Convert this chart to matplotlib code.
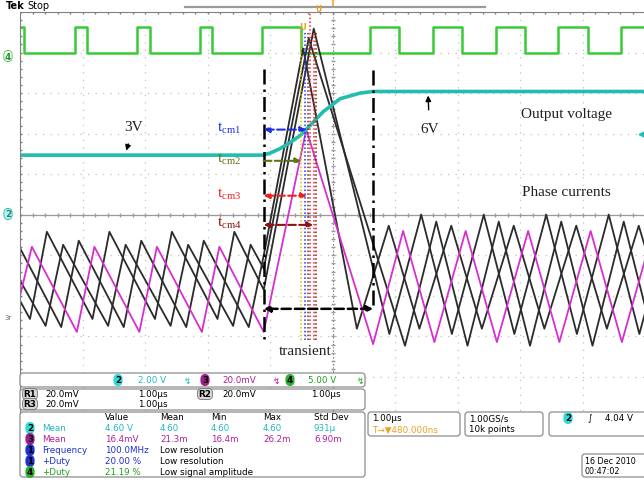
import matplotlib.pyplot as plt
from matplotlib.patches import FancyBboxPatch

# Scope screen: 10 x 10 divisions, 1.00 us/div.  Values are in divisions,
# vertical 0 = screen centre.

# Ch4 gate pulse (green), edge times and levels
green_t = [0, 0.06, 0.88, 1.07, 1.87, 2.08, 2.88, 3.07, 3.87, 4.50,
           5.60, 6.06, 6.61, 7.07, 7.62, 8.08, 8.61, 9.09, 9.62, 10.08]
green_v = [4.64, 4.0, 4.64, 4.0, 4.64, 4.0, 4.64, 4.0, 4.64, 4.0,
           4.64, 4.0, 4.64, 4.0, 4.64, 4.0, 4.64, 4.0, 4.64, 4.0]

# Ch2 output voltage (3V -> 6V step)
vout_t = [0, 3.89, 4.0, 4.16, 4.32, 4.48, 4.64, 4.85, 5.12, 5.44, 5.65, 10.0]
vout_v = [1.47, 1.47, 1.52, 1.63, 1.78, 1.95, 2.20, 2.54, 2.86, 3.00, 3.04, 3.04]

# Phase currents, triangle vertices
ph1_t = [0, 0.19, 0.91, 1.19, 1.91, 2.19, 2.91, 3.19, 3.90, 4.58, 5.65,
         6.13, 6.63, 7.13, 7.63, 8.13, 8.63, 9.13, 9.63, 10.13]
ph1_v = [-2.0, -0.79, -2.89, -0.79, -2.89, -0.79, -2.89, -0.79, -2.89, 2.10, -3.19,
         -0.40, -3.14, -0.40, -3.14, -0.40, -3.14, -0.40, -3.14, -0.40]

ph2_t = [0, 0.16, 0.43, 1.16, 1.43, 2.16, 2.43, 3.16, 3.43, 3.90, 4.70, 5.91,
         6.42, 6.91, 7.42, 7.91, 8.42, 8.91, 9.42, 9.91, 10.42]
ph2_v = [-2.12, -2.57, -0.42, -2.57, -0.42, -2.57, -0.42, -2.57, -0.42, -1.85, 4.59, -2.94,
         0.0, -2.94, 0.0, -2.94, 0.0, -2.94, 0.0, -2.94, 0.0]

ph3_t = [0, 0.41, 0.69, 1.41, 1.69, 2.41, 2.69, 3.41, 3.69, 3.90, 4.62, 6.16,
         6.66, 7.16, 7.66, 8.16, 8.66, 9.16, 9.66, 10.16]
ph3_v = [-1.62, -2.74, -0.74, -2.74, -0.74, -2.74, -0.74, -2.74, -0.74, -1.33, 4.35, -3.23,
         -0.17, -3.23, -0.17, -3.23, -0.17, -3.23, -0.17, -3.23]

ph4_t = [0, 0.66, 0.94, 1.66, 1.94, 2.66, 2.94, 3.66, 3.90, 4.53, 5.39,
         5.90, 6.39, 6.90, 7.39, 7.90, 8.39, 8.90, 9.39, 9.90, 10.39]
ph4_v = [-0.82, -2.77, -0.64, -2.77, -0.64, -2.77, -0.64, -2.77, -1.0, 4.10, -2.81,
         -0.27, -2.81, -0.27, -2.81, -0.27, -2.81, -0.27, -2.81, -0.27, -2.81]

# transient window and response-time arrows
t_start, t_end = 3.90, 5.65
tcm_labels = ["cm1", "cm2", "cm3", "cm4"]
tcm_level = [2.10, 1.33, 0.47, -0.25]
tcm_end = [4.58, 4.50, 4.59, 4.69]
tcm_color = ["#1f2fe0", "#5f7417", "#f02020", "#8a1414"]
mark_t = [4.50, 4.56, 4.60, 4.64, 4.70, 4.74]
mark_color = ["#d8c000", "#2030ff", "#404040", "#ff2020", "#e03030", "#901818"]

GREEN = "#37cc37"
TEAL = "#22bdb0"
MAG = "#d62fd0"
DARK = "#2b2b2b"

plt.rcParams["mathtext.fontset"] = "custom"
plt.rcParams["mathtext.rm"] = "Liberation Serif"

W, H = 644, 485
fig = plt.figure(figsize=(W / 100, H / 100), dpi=100)
ax = fig.add_axes([20 / W, (H - 418.5) / H, 625 / W, 405.5 / H])
ax.set_xlim(0, 10)
ax.set_ylim(-5, 5)

# graticule
ax.set_xticks(range(11))
ax.set_yticks(range(-5, 6))
ax.grid(True, color="#c0c0c0", linestyle=(0, (1, 5)), lw=0.9)
ax.tick_params(length=0, labelleft=False, labelbottom=False)
for s in ["right", "bottom"]:
    ax.spines[s].set_visible(False)
for s in ["top", "left"]:
    ax.spines[s].set_color("#808080")
ax.axhline(0, color="#9a9a9a", lw=0.9)
ax.axvline(5, color="#707070", lw=0.8, linestyle=(0, (1, 2)))
minor_x = [i / 5 for i in range(51)]
minor_y = [i / 5 - 5 for i in range(51)]
ax.plot(minor_x, [0] * 51, "|", color="#9a9a9a", ms=3)
ax.plot([5] * 51, minor_y, "_", color="#9a9a9a", ms=3)
ax.plot(minor_x, [5] * 51, "|", color="#808080", ms=3)
ax.plot([0] * 51, minor_y, "_", color="#808080", ms=3)

# traces
ax.step(green_t, green_v, where="post", color=GREEN, lw=1.8)
for t, v in [(ph2_t, ph2_v), (ph3_t, ph3_v), (ph4_t, ph4_v)]:
    ax.plot(t, v, color=DARK, lw=1.3)
ax.plot(ph1_t, ph1_v, color=MAG, lw=1.3)
ax.plot(vout_t, vout_v, color=TEAL, lw=2.6)

# transient annotations
for x, c in zip(mark_t, mark_color):
    top = 5 if c == "#ff2020" else 4.5
    ax.plot([x, x], [-3.1, top], color=c, lw=1.1, linestyle=(0, (1, 1.5)))
ax.plot([t_start, t_start], [3.6, -3.06], color="black", lw=1.8, linestyle=(0, (6, 2, 1, 2)))
ax.plot([t_end, t_end], [3.56, -2.32], color="black", lw=1.8, linestyle=(0, (6, 2, 1, 2)))
ax.annotate("", xy=(t_start, -2.32), xytext=(t_end, -2.32),
            arrowprops=dict(arrowstyle="<|-|>", color="black", lw=1.8, linestyle="--",
                            mutation_scale=9, shrinkA=0, shrinkB=0))
for lab, yv, xe, c in zip(tcm_labels, tcm_level, tcm_end, tcm_color):
    style = "-|>" if lab == "cm2" else "<|-|>"
    ax.annotate("", xy=(xe, yv), xytext=(t_start, yv),
                arrowprops=dict(arrowstyle=style, color=c, lw=1.5, linestyle="--",
                                mutation_scale=8, shrinkA=0, shrinkB=0))
    ax.text(3.35, yv + 0.05, r"$\mathrm{t_{%s}}$" % lab, color=c, fontsize=11,
            ha="center", va="center")

serif = dict(family="Liberation Serif", fontsize=11, color="#202020")
ax.annotate("3V", xy=(1.70, 1.58), xytext=(1.82, 2.17), ha="center", va="center",
            arrowprops=dict(arrowstyle="-|>", color="black", lw=1, mutation_scale=8,
                            shrinkA=6, shrinkB=0), **serif)
ax.annotate("6V", xy=(6.53, 2.94), xytext=(6.55, 2.12), ha="center", va="center",
            arrowprops=dict(arrowstyle="-|>", color="black", lw=1, mutation_scale=8,
                            shrinkA=7, shrinkB=0), **serif)
ax.text(8.74, 2.49, "Output voltage", ha="center", va="center", **serif)
ax.text(8.74, 0.57, "Phase currents", ha="center", va="center", **serif)
ax.text(4.56, -3.36, "transient", ha="center", va="center", **serif)

# overlay for scope readouts (pixel coordinates)
ov = fig.add_axes([0, 0, 1, 1])
ov.set_xlim(0, W)
ov.set_ylim(H, 0)
ov.axis("off")
ov.patch.set_alpha(0)

sans = dict(family="DejaVu Sans", fontsize=6.3, va="center")


def box(x0, y0, x1, y1):
    ov.add_patch(FancyBboxPatch((x0, y0), x1 - x0, y1 - y0,
                                boxstyle="round,pad=0,rounding_size=3",
                                fc="white", ec="#8c8c8c", lw=0.9))


def badge(x, y, s, fc, tc="black", ec=None):
    ov.text(x, y, s, ha="center", color=tc, fontweight="bold",
            bbox=dict(boxstyle="round,pad=0.12,rounding_size=0.5", fc=fc,
                      ec=ec or fc, lw=0.6), **sans)


ov.text(6, 6, "Tek", fontweight="bold", family="DejaVu Sans", fontsize=7, va="center")
ov.text(27, 6, "Stop", family="DejaVu Sans", fontsize=7, va="center")
ov.plot([185, 485], [8, 8], color="#9a9a9a", lw=1.6)
ov.text(333, 4, "T", color="#f0a020", fontsize=6, ha="center", va="center", fontweight="bold")
ov.text(318, 9, "U", color="#f0a020", fontsize=5.5, ha="center", va="center", fontweight="bold")
ov.text(303, 27, "U", color="#f0a020", fontsize=6, ha="center", va="center", fontweight="bold")
badge(8, 57, "4", "white", "#2a8a2a", GREEN)
badge(8, 215, "2", "#bff0ec", "#1a8a80", TEAL)
ov.text(8, 318, "3r", color="#707070", fontsize=5, ha="center", va="center")
ov.plot(641, 135, marker="<", color=TEAL, ms=3.5)

box(20, 374, 365, 388)
badge(118, 381, "2", "#30d8d8")
ov.text(138, 381, "2.00 V", color="#20b8c0", **sans)
ov.text(184, 381, "\u21af", color="#20b8c0", **sans)
badge(205, 381, "3", "#a0208a", "black")
ov.text(222, 381, "20.0mV", color="#b0209a", **sans)
ov.text(273, 381, "\u21af", color="#b0209a", **sans)
badge(290, 381, "4", "#30b030")
ov.text(308, 381, "5.00 V", color="#20a020", **sans)
ov.text(357, 381, "\u21af", color="#20a020", **sans)

box(20, 390, 365, 411)
badge(30, 395, "R1", "#d8d8d8", ec="#707070")
ov.text(45, 395, "20.0mV", **sans)
ov.text(138, 395, "1.00\u00b5s", **sans)
badge(205, 395, "R2", "#d8d8d8", ec="#707070")
ov.text(222, 395, "20.0mV", **sans)
ov.text(311, 395, "1.00\u00b5s", **sans)
badge(30, 405, "R3", "#d8d8d8", ec="#707070")
ov.text(45, 405, "20.0mV", **sans)
ov.text(138, 405, "1.00\u00b5s", **sans)

box(20, 413, 365, 478)
cols = [105, 160, 211, 263, 314]
for x, s in zip(cols, ["Value", "Mean", "Min", "Max", "Std Dev"]):
    ov.text(x, 418, s, **sans)
rows = [
    (429, "2", "#30d8d8", "Mean", "#20b8c0", ["4.60 V", "4.60", "4.60", "4.60", "931\u00b5"], None),
    (440, "3", "#a0208a", "Mean", "#b0209a", ["16.4mV", "21.3m", "16.4m", "26.2m", "6.90m"], None),
    (451, "1", "#2030d0", "Frequency", "#2030d0", ["100.0MHz"], "Low resolution"),
    (462, "1", "#2030d0", "+Duty", "#2030d0", ["20.00 %"], "Low resolution"),
    (473, "4", "#30b030", "+Duty", "#20a020", ["21.19 %"], "Low signal amplitude"),
]
for y, ch, bc, name, tc, vals, note in rows:
    badge(30, y, ch, bc)
    ov.text(42, y, name, color=tc, **sans)
    for x, s in zip(cols, vals):
        ov.text(x, y, s, color=tc, **sans)
    if note:
        ov.text(160, y, note, **sans)

box(368, 413, 460, 437)
ov.text(372, 419, "1.00\u00b5s", **sans)
ov.text(372, 430, "T\u2192\u25bc480.000ns", color="#f0a020", **sans)
box(465, 413, 543, 437)
ov.text(469, 419, "1.00GS/s", **sans)
ov.text(469, 430, "10k points", **sans)
box(549, 413, 652, 437)
badge(568, 419, "2", "#30d8d8")
ov.text(588, 419, "\u222b", **sans)
ov.text(605, 419, "4.04 V", **sans)
box(582, 455, 652, 478)
ov.text(585, 462, "16 Dec 2010", family="DejaVu Sans", fontsize=5.8, va="center")
ov.text(585, 472, "00:47:02", family="DejaVu Sans", fontsize=5.8, va="center")

fig.savefig("out.png", dpi=100)
